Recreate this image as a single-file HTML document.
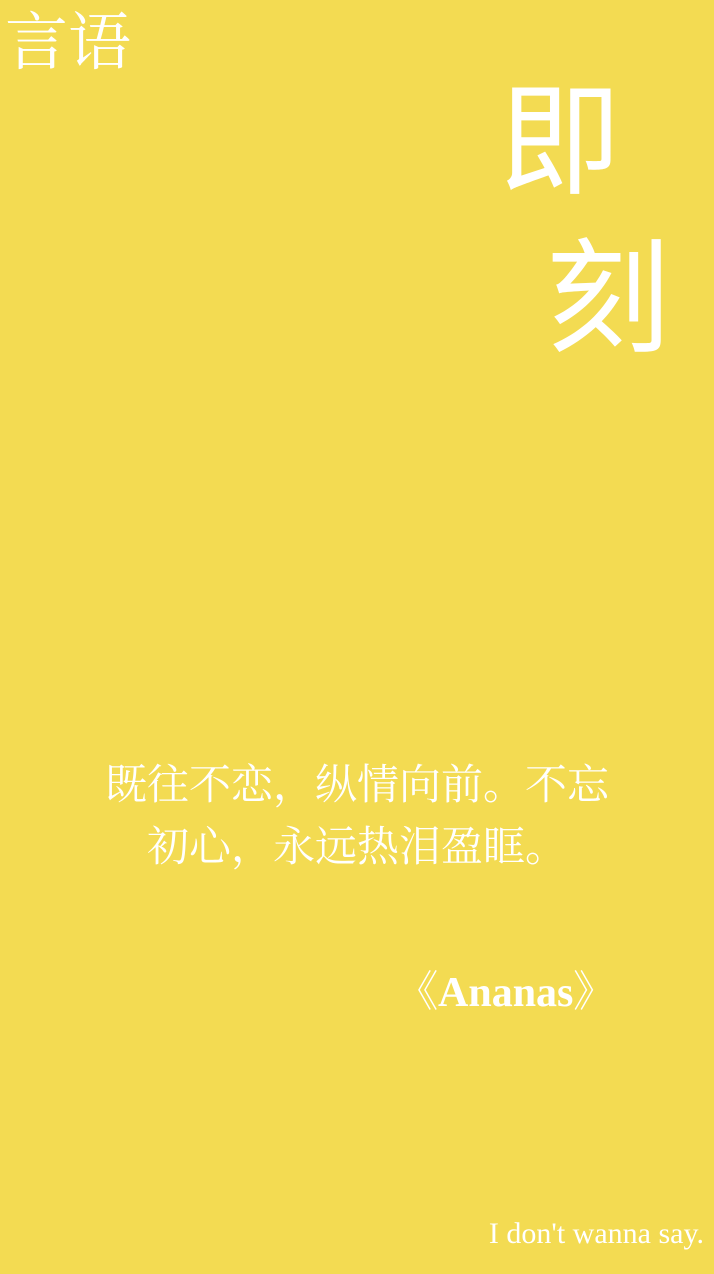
<!DOCTYPE html>
<html><head><meta charset="utf-8"><style>
html,body{margin:0;padding:0;}
body{width:714px;height:1274px;background:#F3DB52;position:relative;overflow:hidden;color:#fff;}
.a{position:absolute;white-space:nowrap;}
.serif{font-family:"Liberation Serif","Noto Serif CJK SC",serif;}
.sans{font-family:"Liberation Sans","Noto Sans CJK SC",sans-serif;}
</style></head><body>
<div class="a serif" style="left:5px;top:0px;font-size:63px;line-height:86px;">言语</div>
<div class="a sans" style="left:499px;top:62px;font-size:122px;line-height:160px;">即</div>
<div class="a sans" style="left:546px;top:220px;font-size:124px;line-height:160px;">刻</div>
<div class="a serif" style="left:0;width:714px;text-align:center;top:755px;font-size:42px;line-height:62px;">既往不恋，纵情向前。不忘<br>初心，永远热泪盈眶。</div>
<div class="a serif" style="left:396px;top:966px;font-size:42px;line-height:54px;font-weight:bold;">《Ananas》</div>
<div class="a serif" style="right:10px;top:1215px;font-size:30px;line-height:38px;">I don't wanna say.</div>
</body></html>
